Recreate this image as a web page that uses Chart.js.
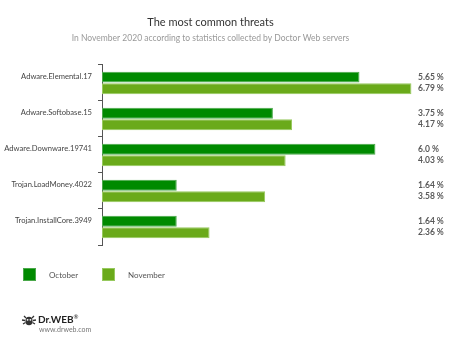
<!DOCTYPE html>
<html>
<head>
<meta charset="utf-8">
<script src="https://cdn.jsdelivr.net/npm/chart.js@4"></script>
<style>
    html, body { margin: 0; padding: 0; background: #fff; }
    .wrap { position: relative; width: 450px; height: 344px; }
    .logo { position: absolute; left: 21px; top: 313px; font-family: Lato, sans-serif; }
    .logo svg { position: absolute; left: 0; top: 1px; }
    .logo .brand { position: absolute; left: 17px; top: 0; font: bold 10px Lato, sans-serif; color: #222; white-space: nowrap; }
    .logo .brand sup { font-size: 6px; color: #555; }
    .logo .site { position: absolute; left: 18px; top: 12px; font-size: 7px; color: #777; white-space: nowrap; }
</style>
</head>
<body>
<div class="wrap">
    <canvas id="threatsChart" width="450" height="344"></canvas>
    <div class="logo">
        <svg width="16" height="13" viewBox="0 0 16 13">
            <g stroke="#333" stroke-width="1.3" fill="none">
                <path d="M3 2 L5 4 M13 2 L11 4 M1 6 L4 6.5 M15 6 L12 6.5 M2 10 L4.5 8.5 M14 10 L11.5 8.5"/>
            </g>
            <ellipse cx="8" cy="7" rx="3.6" ry="4.3" fill="#333"/>
            <circle cx="6.6" cy="5.8" r="0.9" fill="#fff"/>
            <circle cx="9.4" cy="5.8" r="0.9" fill="#fff"/>
        </svg>
        <span class="brand">Dr.WEB<sup>®</sup></span>
        <span class="site">www.drweb.com</span>
    </div>
</div>
<script>
// Chart data
const threats = ['Adware.Elemental.17', 'Adware.Softobase.15', 'Adware.Downware.19741', 'Trojan.LoadMoney.4022', 'Trojan.InstallCore.3949'];
const october = [5.65, 3.75, 6.0, 1.64, 1.64];
const november = [6.79, 4.17, 4.03, 3.58, 2.36];
const seriesNames = ['October', 'November'];

const FONT = 'Lato, "Noto Sans", sans-serif';

function fmt(v) {
    return (Number.isInteger(v) ? v.toFixed(1) : String(v)) + ' %';
}

// value labels on the right + custom legend
const extras = {
    id: 'extras',
    afterDatasetsDraw(chart) {
        const c = chart.ctx;
        c.save();
        c.font = 'bold 8.5px ' + FONT;
        c.fillStyle = '#5a5a5a';
        c.textBaseline = 'middle';
        c.textAlign = 'left';
        chart.data.datasets.forEach((ds, i) => {
            chart.getDatasetMeta(i).data.forEach((bar, j) => {
                c.fillText(fmt(ds.data[j]), 418, bar.y);
            });
        });

        // legend
        const xs = [23, 102];
        c.font = '8px ' + FONT;
        chart.data.datasets.forEach((ds, i) => {
            c.fillStyle = ds.backgroundColor;
            c.fillRect(xs[i], 268, 13, 13);
            c.strokeStyle = ds.borderColor;
            c.lineWidth = 1;
            c.strokeRect(xs[i] + 0.5, 268.5, 12, 12);
            c.fillStyle = '#555';
            c.fillText(ds.label, xs[i] + 26, 275);
        });
        c.restore();
    }
};

new Chart(document.getElementById('threatsChart'), {
    type: 'bar',
    data: {
        labels: threats,
        datasets: [{
            label: seriesNames[0],
            data: october,
            backgroundColor: '#008a00',
            borderColor: '#4aa84a',
            borderWidth: 1,
            borderSkipped: false
        }, {
            label: seriesNames[1],
            data: november,
            backgroundColor: '#6aaa1a',
            borderColor: '#97c95e',
            borderWidth: 1,
            borderSkipped: false
        }]
    },
    options: {
        indexAxis: 'y',
        responsive: false,
        animation: false,
        categoryPercentage: 0.64,
        barPercentage: 0.95,
        layout: { padding: { left: 0, right: 29, top: 0, bottom: 99 } },
        scales: {
            x: {
                display: false,
                min: 0,
                max: 7
            },
            y: {
                afterFit(scale) { scale.width = 102; },
                grid: {
                    display: true,
                    drawOnChartArea: false,
                    drawTicks: true,
                    tickLength: 4,
                    offset: true,
                    color: '#555'
                },
                border: { display: true, color: '#555', width: 1 },
                ticks: {
                    font: { family: FONT, size: 7.6 },
                    color: '#444',
                    padding: 6,
                    labelOffset: -6
                }
            }
        },
        plugins: {
            legend: { display: false },
            tooltip: { enabled: false },
            title: {
                display: true,
                text: 'The most common threats',
                color: '#333',
                font: { family: FONT, size: 11, weight: 'normal' },
                padding: { top: 16, bottom: 2 }
            },
            subtitle: {
                display: true,
                text: 'In November 2020 according to statistics collected by Doctor Web servers',
                color: '#999',
                font: { family: FONT, size: 8.5 },
                padding: { top: 1.5, bottom: 22 }
            }
        }
    },
    plugins: [extras]
});
</script>
</body>
</html>
